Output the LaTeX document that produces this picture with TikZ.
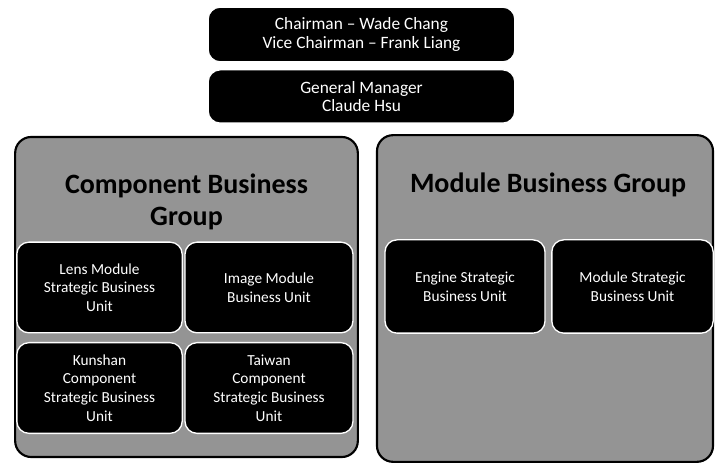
\documentclass[tikz,border=0pt]{standalone}
\usepackage{fontspec}
\setmainfont{Carlito}
\usepackage{xcolor}
\usepackage{tikz}
\usetikzlibrary{positioning}

\tikzset{
  blackbox/.style={draw=white, line width=1pt, fill=black, rounded corners=9pt, text=white, align=center, font=\fontsize{11.5}{14}\selectfont, inner sep=2pt},
  groupbox/.style={draw=black, line width=1.6pt, fill=black!42, rounded corners=12pt},
  grouptitle/.style={font=\fontsize{21}{24}\selectfont\bfseries, align=center, text=black}
}

\begin{document}
\begin{tikzpicture}[x=0.75pt,y=-0.75pt]
\useasboundingbox (0,0) rectangle (715,474);
\fill[white] (0,0) rectangle (715,474);
\node (chair) at (361.5,34.5) [blackbox, minimum width=230pt, minimum height=41pt, font=\fontsize{13}{14}\selectfont] {Chairman -- Wade Chang\\Vice Chairman -- Frank Liang};
\node (gm) at (361.5,96.5) [blackbox, minimum width=230pt, minimum height=40pt, font=\fontsize{13}{14}\selectfont] {General Manager\\Claude Hsu};

\node (cbg) at (186.5,297) [groupbox, minimum width=257pt, minimum height=240pt] {};
\node (mbg) at (545,298.5) [groupbox, minimum width=252pt, minimum height=245pt] {};
\node[grouptitle] (cbgtitle) at (186.5,202) {Component Business\\Group};
\node[grouptitle] (mbgtitle) at (548,185) {Module Business Group};

\node (lens) at (99.5,287.5) [blackbox, minimum width=124pt, minimum height=68pt] {Lens Module\\Strategic Business\\Unit};
\node (image) at (269,287.5) [blackbox, minimum width=126pt, minimum height=68pt] {Image Module\\Business Unit};
\node (kunshan) at (99.5,388) [blackbox, minimum width=124pt, minimum height=68pt] {Kunshan\\Component\\Strategic Business\\Unit};
\node (taiwan) at (269,388) [blackbox, minimum width=126pt, minimum height=68pt] {Taiwan\\Component\\Strategic Business\\Unit};

\node (engine) at (465,286.5) [blackbox, minimum width=120pt, minimum height=70pt] {Engine Strategic\\Business Unit};
\node (module) at (632.5,286.5) [blackbox, minimum width=121pt, minimum height=70pt] {Module Strategic\\Business Unit};
\end{tikzpicture}
\end{document}
